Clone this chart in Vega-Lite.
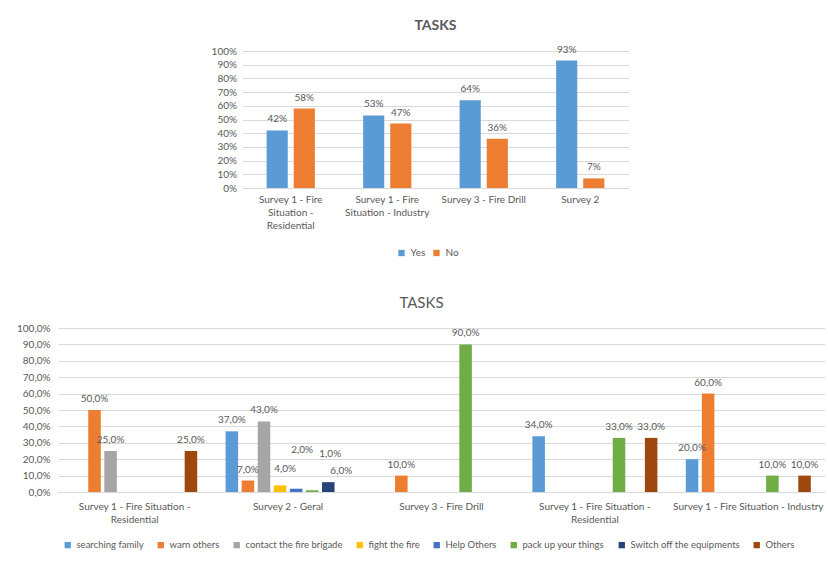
{
  "$schema": "https://vega.github.io/schema/vega-lite/v6.json",
  "padding": {"left": 16, "top": 18, "right": 0, "bottom": 0},
  "center": true,
  "spacing": 38,
  "resolve": {
    "scale": {"x": "independent", "xOffset": "independent", "y": "independent", "color": "independent"},
    "axis": {"x": "independent", "y": "independent"},
    "legend": {"color": "independent"}
  },
  "datasets": {
    "yesno": [
      {"survey": "Survey 1 - Fire Situation - Residential", "answer": "Yes", "pct": 0.42},
      {"survey": "Survey 1 - Fire Situation - Residential", "answer": "No", "pct": 0.58},
      {"survey": "Survey 1 - Fire Situation - Industry", "answer": "Yes", "pct": 0.53},
      {"survey": "Survey 1 - Fire Situation - Industry", "answer": "No", "pct": 0.47},
      {"survey": "Survey 3 - Fire Drill", "answer": "Yes", "pct": 0.64},
      {"survey": "Survey 3 - Fire Drill", "answer": "No", "pct": 0.36},
      {"survey": "Survey 2", "answer": "Yes", "pct": 0.93},
      {"survey": "Survey 2", "answer": "No", "pct": 0.07}
    ],
    "tasks": [
      {"group": 1, "survey": "Survey 1 - Fire Situation - Residential", "task": "warn others", "pct": 0.50},
      {"group": 1, "survey": "Survey 1 - Fire Situation - Residential", "task": "contact the fire brigade", "pct": 0.25},
      {"group": 1, "survey": "Survey 1 - Fire Situation - Residential", "task": "Others", "pct": 0.25},
      {"group": 2, "survey": "Survey 2 - Geral", "task": "searching family", "pct": 0.37},
      {"group": 2, "survey": "Survey 2 - Geral", "task": "warn others", "pct": 0.07},
      {"group": 2, "survey": "Survey 2 - Geral", "task": "contact the fire brigade", "pct": 0.43},
      {"group": 2, "survey": "Survey 2 - Geral", "task": "fight the fire", "pct": 0.04},
      {"group": 2, "survey": "Survey 2 - Geral", "task": "Help Others", "pct": 0.02},
      {"group": 2, "survey": "Survey 2 - Geral", "task": "pack up your things", "pct": 0.01},
      {"group": 2, "survey": "Survey 2 - Geral", "task": "Switch off the equipments", "pct": 0.06},
      {"group": 3, "survey": "Survey 3 - Fire Drill", "task": "warn others", "pct": 0.10},
      {"group": 3, "survey": "Survey 3 - Fire Drill", "task": "pack up your things", "pct": 0.90},
      {"group": 4, "survey": "Survey 1 - Fire Situation - Residential", "task": "searching family", "pct": 0.34},
      {"group": 4, "survey": "Survey 1 - Fire Situation - Residential", "task": "pack up your things", "pct": 0.33},
      {"group": 4, "survey": "Survey 1 - Fire Situation - Residential", "task": "Others", "pct": 0.33},
      {"group": 5, "survey": "Survey 1 - Fire Situation - Industry", "task": "searching family", "pct": 0.20},
      {"group": 5, "survey": "Survey 1 - Fire Situation - Industry", "task": "warn others", "pct": 0.60},
      {"group": 5, "survey": "Survey 1 - Fire Situation - Industry", "task": "pack up your things", "pct": 0.10},
      {"group": 5, "survey": "Survey 1 - Fire Situation - Industry", "task": "Others", "pct": 0.10}
    ]
  },
  "vconcat": [
    {
      "width": 386,
      "height": 137,
      "data": {"name": "yesno"},
      "title": {"text": "TASKS", "fontSize": 14, "fontWeight": "bold", "color": "#595959", "offset": 12},
      "encoding": {
        "x": {
          "field": "survey", "type": "nominal", "sort": null,
          "scale": {"paddingInner": 0.5, "paddingOuter": 0.25},
          "axis": {
            "title": null, "labelAngle": 0, "ticks": false, "domainColor": "#D9D9D9",
            "labelColor": "#595959", "labelFontSize": 10, "labelPadding": 6, "labelLineHeight": 13,
            "labelExpr": "datum.value == 'Survey 1 - Fire Situation - Residential' ? ['Survey 1 - Fire', 'Situation -', 'Residential'] : datum.value == 'Survey 1 - Fire Situation - Industry' ? ['Survey 1 - Fire', 'Situation - Industry'] : datum.value"
          }
        },
        "xOffset": {"field": "answer", "type": "nominal", "sort": ["Yes", "No"], "scale": {"paddingInner": 0.22, "paddingOuter": 0}}
      },
      "resolve": {"axis": {"y": "independent"}},
      "layer": [
        {
          "mark": {"type": "bar"},
          "encoding": {
            "y": {
              "field": "pct", "type": "quantitative",
              "scale": {"domain": [0, 1]},
              "axis": {
                "title": null, "format": ".0%", "values": [0, 0.1, 0.2, 0.3, 0.4, 0.5, 0.6, 0.7, 0.8, 0.9, 1],
                "domain": false, "ticks": false, "gridColor": "#D9D9D9",
                "labelColor": "#595959", "labelFontSize": 10, "labelPadding": 6
              }
            },
            "color": {
              "field": "answer", "type": "nominal",
              "scale": {"domain": ["Yes", "No"], "range": ["#5B9BD5", "#ED7D31"]},
              "legend": {
                "title": null, "orient": "none", "legendX": 154, "legendY": 197, "direction": "horizontal", "symbolType": "square",
                "symbolSize": 40, "labelFontSize": 10, "labelColor": "#595959", "columnPadding": 6
              }
            }
          }
        },
        {
          "mark": {"type": "text", "baseline": "middle", "dy": -11, "fontSize": 10, "color": "#595959"},
          "encoding": {
            "y": {
              "field": "pct", "type": "quantitative",
              "scale": {"domain": [0, 1]},
              "axis": {
                "orient": "right", "title": null, "labels": false, "ticks": false, "grid": false,
                "domain": true, "domainColor": "#ffffff", "domainOpacity": 0, "offset": 12
              }
            },
            "text": {"field": "pct", "type": "quantitative", "format": ".0%"}
          }
        }
      ]
    },
    {
      "width": 767,
      "height": 164,
      "data": {"name": "tasks"},
      "title": {"text": "TASKS", "fontSize": 15, "fontWeight": "normal", "color": "#595959", "offset": 12, "dx": -20},
      "encoding": {
        "x": {
          "field": "group", "type": "nominal", "sort": null,
          "scale": {"paddingInner": 0.185, "paddingOuter": 0.0925},
          "axis": {
            "title": null, "labelAngle": 0, "ticks": false, "domainColor": "#D9D9D9",
            "labelColor": "#595959", "labelFontSize": 10, "labelPadding": 9, "labelLineHeight": 13,
            "labelExpr": "datum.value == 1 || datum.value == 4 ? ['Survey 1 - Fire Situation -', 'Residential'] : datum.value == 2 ? 'Survey 2 - Geral' : datum.value == 3 ? 'Survey 3 - Fire Drill' : 'Survey 1 - Fire Situation - Industry'"
          }
        },
        "xOffset": {
          "field": "task", "type": "nominal",
          "scale": {
            "domain": ["searching family", "warn others", "contact the fire brigade", "fight the fire", "Help Others", "pack up your things", "Switch off the equipments", "Others"],
            "paddingInner": 0.22, "paddingOuter": 0
          }
        },
        "y": {
          "field": "pct", "type": "quantitative",
          "scale": {"domain": [0, 1]},
          "axis": {
            "title": null, "format": ".1%", "values": [0, 0.1, 0.2, 0.3, 0.4, 0.5, 0.6, 0.7, 0.8, 0.9, 1],
            "domain": false, "ticks": false, "gridColor": "#D9D9D9",
            "labelColor": "#595959", "labelFontSize": 10, "labelPadding": 8
          }
        }
      },
      "layer": [
        {
          "mark": {"type": "bar"},
          "encoding": {
            "color": {
              "field": "task", "type": "nominal",
              "scale": {
                "domain": ["searching family", "warn others", "contact the fire brigade", "fight the fire", "Help Others", "pack up your things", "Switch off the equipments", "Others"],
                "range": ["#5B9BD5", "#ED7D31", "#A5A5A5", "#FFC000", "#4472C4", "#70AD47", "#264478", "#9E480E"]
              },
              "legend": {
                "title": null, "orient": "none", "legendX": 5, "legendY": 212, "direction": "horizontal", "symbolType": "square",
                "symbolSize": 40, "labelFontSize": 9.5, "labelColor": "#595959", "columnPadding": 12
              }
            }
          }
        },
        {
          "transform": [{"filter": "!(datum.group == 2 && (datum.task == 'fight the fire' || datum.task == 'Help Others' || datum.task == 'pack up your things' || datum.task == 'Switch off the equipments'))"}],
          "mark": {"type": "text", "baseline": "middle", "dy": -11, "fontSize": 10, "color": "#595959"},
          "encoding": {"text": {"field": "pct", "type": "quantitative", "format": ".1%"}}
        },
        {
          "transform": [{"filter": "datum.group == 2 && datum.task == 'fight the fire'"}],
          "mark": {"type": "text", "baseline": "middle", "dy": -16, "dx": 5, "fontSize": 10, "color": "#595959"},
          "encoding": {"text": {"field": "pct", "type": "quantitative", "format": ".1%"}}
        },
        {
          "transform": [{"filter": "datum.group == 2 && datum.task == 'Help Others'"}],
          "mark": {"type": "text", "baseline": "middle", "dy": -39, "dx": 6, "fontSize": 10, "color": "#595959"},
          "encoding": {"text": {"field": "pct", "type": "quantitative", "format": ".1%"}}
        },
        {
          "transform": [{"filter": "datum.group == 2 && datum.task == 'pack up your things'"}],
          "mark": {"type": "text", "baseline": "middle", "dy": -36, "dx": 18, "fontSize": 10, "color": "#595959"},
          "encoding": {"text": {"field": "pct", "type": "quantitative", "format": ".1%"}}
        },
        {
          "transform": [{"filter": "datum.group == 2 && datum.task == 'Switch off the equipments'"}],
          "mark": {"type": "text", "baseline": "middle", "dy": -11, "dx": 13, "fontSize": 10, "color": "#595959"},
          "encoding": {"text": {"field": "pct", "type": "quantitative", "format": ".1%"}}
        }
      ]
    }
  ],
  "config": {
    "font": "Lato",
    "view": {"stroke": null},
    "locale": {"number": {"decimal": ",", "thousands": ".", "grouping": [3], "currency": ["", " €"]}},
    "axis": {"labelFont": "Lato"},
    "legend": {"labelFont": "Lato"}
  }
}
